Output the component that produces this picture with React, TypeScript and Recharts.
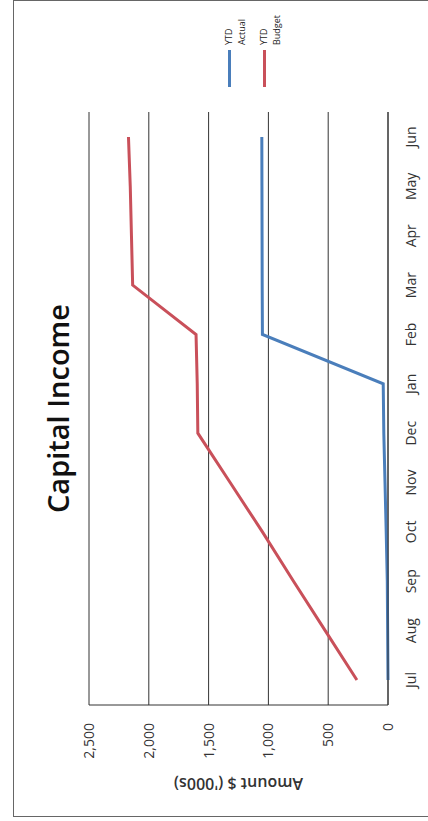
import React from 'react';
import { LineChart, Line, XAxis, YAxis, CartesianGrid } from 'recharts';

// Month-by-month YTD figures, $ '000s
const months = ['Jul', 'Aug', 'Sep', 'Oct', 'Nov', 'Dec', 'Jan', 'Feb', 'Mar', 'Apr', 'May', 'Jun'];
const ytdActual = [0, 3, 6, 15, 25, 35, 40, 1050, 1052, 1053, 1054, 1055];
const ytdBudget = [260, 525, 790, 1050, 1320, 1590, 1595, 1605, 2135, 2145, 2155, 2170];
const valueTicks = [0, 500, 1000, 1500, 2000, 2500];

const seriesInfo = [
  { key: 'actual', top: 'YTD', bottom: 'Actual', color: '#4A7EBB' },
  { key: 'budget', top: 'YTD', bottom: 'Budget', color: '#C9505A' },
];

const data = months.map((m, i) => ({ month: m, actual: ytdActual[i], budget: ytdBudget[i] }));

const W = 821;
const H = 428;

const App: React.FC = () => {
  return (
    <div style={{ position: 'absolute', left: 0, top: 0, width: 428, height: 821, overflow: 'hidden', background: '#fff' }}>
      {/* chart is laid out landscape, then turned a quarter turn */}
      <div
        style={{
          position: 'absolute',
          left: 0,
          top: 0,
          width: W,
          height: H,
          transformOrigin: 'top left',
          transform: `translateY(${W}px) rotate(-90deg)`,
          fontFamily: "'Open Sans', sans-serif",
        }}
      >
        <div style={{ position: 'absolute', left: 4, top: 13, width: 815, height: 500, border: '1px solid #666' }} />

        <div style={{
          position: 'absolute', left: 116, top: 38, width: 593, textAlign: 'center',
          fontSize: 29, fontWeight: 600, color: '#111', lineHeight: '40px'
        }}>
          Capital Income
        </div>

        <LineChart width={W} height={H} data={data} margin={{ top: 89, right: 112, bottom: 10, left: 36 }}>
          <CartesianGrid vertical={false} stroke="#333" strokeWidth={1} />
          <XAxis
            dataKey="month"
            height={30}
            padding={{ left: 25, right: 25 }}
            axisLine={{ stroke: '#333' }}
            tickLine={false}
            tickSize={0}
            tickMargin={18}
            tick={{ fontSize: 14, fill: '#333' }}
            interval={0}
          />
          <YAxis
            width={80}
            domain={[0, 2500]}
            ticks={valueTicks}
            axisLine={{ stroke: '#333' }}
            tickLine={false}
            tickSize={0}
            tickMargin={18}
            tick={{ fontSize: 14, fill: '#333' }}
            tickFormatter={(v: number) => v.toLocaleString('en-US')}
            label={{
              value: "Amount $ ('000s)",
              angle: -90,
              position: 'insideLeft',
              offset: 1,
              style: { textAnchor: 'middle', fontSize: 16, fontWeight: 600, fill: '#333' },
            }}
          />
          <Line dataKey="actual" type="linear" stroke={seriesInfo[0].color} strokeWidth={3} dot={false} isAnimationActive={false} />
          <Line dataKey="budget" type="linear" stroke={seriesInfo[1].color} strokeWidth={3} dot={false} isAnimationActive={false} />
        </LineChart>

        {/* legend */}
        <div style={{ position: 'absolute', left: 734, top: 222 }}>
          {seriesInfo.map((s) => (
            <div key={s.key} style={{ display: 'flex', alignItems: 'flex-start', height: 35 }}>
              <span style={{ display: 'inline-block', width: 37, height: 3, marginTop: 6, background: s.color }} />
              <span style={{ marginLeft: 5, fontSize: 9, lineHeight: '13px', color: '#222' }}>
                {s.top}
                <br />
                {s.bottom}
              </span>
            </div>
          ))}
        </div>
      </div>
    </div>
  );
};

export default App;
